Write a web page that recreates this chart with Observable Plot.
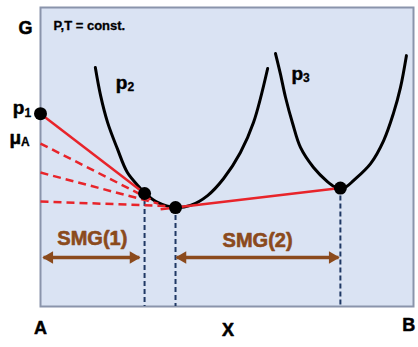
<!DOCTYPE html>
<html>
<head>
<meta charset="utf-8">
<script src="https://cdn.jsdelivr.net/npm/d3@7"></script>
<script src="https://cdn.jsdelivr.net/npm/@observablehq/plot@0.6"></script>
<style>
  html, body { margin: 0; padding: 0; background: #ffffff; overflow: hidden; }
</style>
</head>
<body>
<script>
// ---- Data (composition x from A=0 to B=1, Gibbs energy G in arbitrary units) ----
const p2X = [0.147, 0.161, 0.180, 0.206, 0.233, 0.268, 0.279, 0.314, 0.362, 0.402, 0.448, 0.491, 0.536, 0.571, 0.609];
const p2G = [7.99, 7.06, 6.15, 5.28, 4.48, 3.95, 3.80, 3.48, 3.31, 3.38, 3.71, 4.28, 5.15, 6.15, 7.96];

const p3X = [0.630, 0.643, 0.657, 0.676, 0.697, 0.732, 0.769, 0.788, 0.804, 0.820, 0.839, 0.885, 0.920, 0.946, 0.965, 0.981];
const p3G = [8.46, 7.79, 6.99, 6.12, 5.32, 4.65, 4.18, 4.01, 3.96, 4.01, 4.21, 4.78, 5.55, 6.45, 7.32, 8.39];

// Phase points (p1 at pure A, tangent points on p2 and p3)
const dotX = [0, 0.279, 0.362, 0.804];
const dotG = [6.45, 3.78, 3.31, 3.96];

// Solid common tangent lines
const tieX1 = [0, 0.322];
const tieG1 = [6.45, 3.25];
const tieX2 = [0.279, 0.804];
const tieG2 = [3.78, 3.96];

// Dashed trial tangent lines
const dashX1 = [0, 0, 0];
const dashG1 = [5.45, 4.48, 3.51];
const dashX2 = [0.295, 0.316, 0.343];
const dashG2 = [3.58, 3.44, 3.36];

// Vertical drop lines
const dropX = [0.279, 0.362, 0.804];
const dropG = [3.78, 3.31, 3.96];

// SMG ranges (double-headed arrows)
const smgLabels = ["SMG(1)", "SMG(2)"];
const smgFrom = [0.008, 0.365];
const smgTo = [0.265, 0.799];
const smgG = 1.64;
const smgLabelX = [0.139, 0.582];
const smgLabelG = [2.27, 2.19];

// Phase labels
const phaseBase = ["p", "μ", "p", "p"];
const phaseSub = ["1", "A", "2", "3"];
const phaseX = [-0.043, -0.052, 0.233, 0.704];
const phaseG = [6.64, 5.65, 7.49, 7.79];

// Axis labels
const axisLabels = ["G", "A", "X", "B"];
const axisX = [-0.040, 0.0, 0.503, 0.987];
const axisG = [9.30, -0.74, -0.80, -0.64];

const condLabel = "P,T = const.";
const condX = 0.035, condG = 9.40;

// ---- Build tables ----
const p2 = p2X.map((x, i) => ({x, G: p2G[i]}));
const p3 = p3X.map((x, i) => ({x, G: p3G[i]}));
const dots = dotX.map((x, i) => ({x, G: dotG[i]}));
const ties = tieX1.map((x, i) => ({x1: x, G1: tieG1[i], x2: tieX2[i], G2: tieG2[i]}));
const dashes = dashX1.map((x, i) => ({x1: x, G1: dashG1[i], x2: dashX2[i], G2: dashG2[i]}));
const drops = dropX.map((x, i) => ({x, G: dropG[i]}));
const arrows = smgFrom.map((x, i) => ({x1: x, x2: smgTo[i], G: smgG}));
const smgText = smgLabels.map((t, i) => ({t, x: smgLabelX[i], G: smgLabelG[i]}));
const phases = phaseBase.map((b, i) => ({b, s: phaseSub[i], x: phaseX[i], G: phaseG[i]}));
const axes = axisLabels.map((t, i) => ({t, x: axisX[i], G: axisG[i]}));

const FONT = "'Liberation Sans', Arial, sans-serif";
const RED = "#e8242a";
const NAVY = "#1f3864";
const BROWN = "#8b4a1c";
const heavy = (color, w) => ({fill: color, stroke: color, strokeWidth: w, paintOrder: "normal", fontWeight: "bold", fontFamily: FONT});

const chart = Plot.plot({
  width: 418,
  height: 347,
  marginLeft: 40,
  marginRight: 5,
  marginTop: 7,
  marginBottom: 41,
  x: {domain: [0, 1], axis: null},
  y: {domain: [0, 10], axis: null},
  style: {background: "white", overflow: "visible"},
  marks: [
    Plot.frame({fill: "#dae3f3", stroke: "#8a94ab", strokeWidth: 2}),
    // Gibbs energy curves
    Plot.line(p2, {x: "x", y: "G", stroke: "black", strokeWidth: 3, curve: "catmull-rom"}),
    Plot.line(p3, {x: "x", y: "G", stroke: "black", strokeWidth: 3, curve: "catmull-rom"}),
    // drop lines
    Plot.ruleX(drops, {x: "x", y1: "G", y2: 0, stroke: NAVY, strokeWidth: 2, strokeDasharray: "5,3"}),
    // dashed trial tangents
    Plot.link(dashes, {x1: "x1", y1: "G1", x2: "x2", y2: "G2", stroke: RED, strokeWidth: 2.5, strokeDasharray: "8,5"}),
    // solid tangents
    Plot.link(ties, {x1: "x1", y1: "G1", x2: "x2", y2: "G2", stroke: RED, strokeWidth: 2.5}),
    // points
    Plot.dot(dots, {x: "x", y: "G", r: 6.5, fill: "black"}),
    // SMG arrows
    Plot.link(arrows, {x1: "x1", y1: "G", x2: "x2", y2: "G", stroke: BROWN, strokeWidth: 3.5}),
    Plot.dot(arrows, {x: "x1", y: "G", symbol: "triangle", r: 4.6, fill: BROWN, rotate: -90, dx: 6}),
    Plot.dot(arrows, {x: "x2", y: "G", symbol: "triangle", r: 4.6, fill: BROWN, rotate: 90, dx: -6}),
    Plot.text(smgText, {x: "x", y: "G", text: "t", fontSize: 20, ...heavy(BROWN, 0.6)}),
    // phase labels (base + subscript)
    Plot.text(phases, {x: "x", y: "G", text: "b", textAnchor: "end", fontSize: 19, ...heavy("black", 0.5)}),
    Plot.text(phases, {x: "x", y: "G", text: "s", textAnchor: "start", dy: 5, fontSize: 12, ...heavy("black", 0.3)}),
    // axis labels
    Plot.text(axes, {x: "x", y: "G", text: "t", fontSize: 18, ...heavy("black", 0.5)}),
    // condition
    Plot.text([condLabel], {x: condX, y: condG, text: d => d, textAnchor: "start", fontSize: 13, ...heavy("black", 0.3)})
  ]
});
document.body.appendChild(chart);
</script>
</body>
</html>
